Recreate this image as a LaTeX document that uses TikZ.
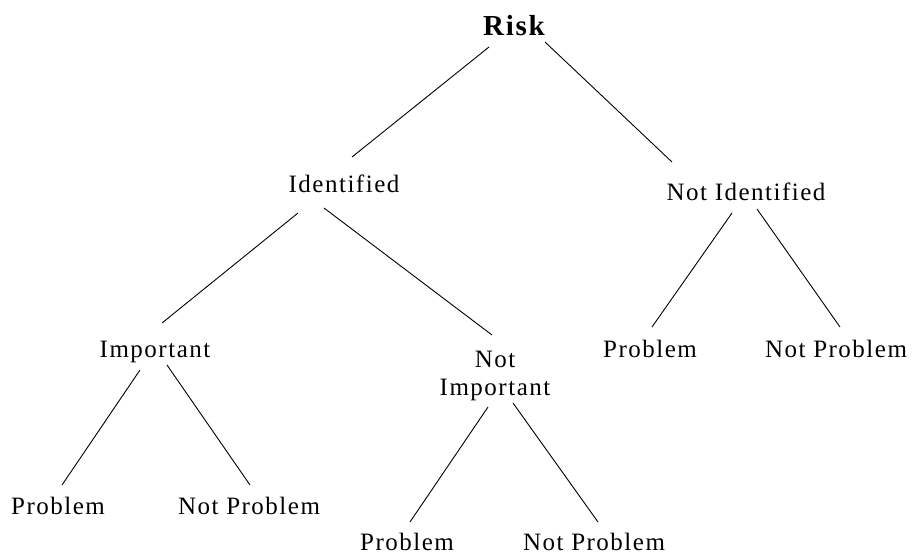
\documentclass[tikz,border=0pt]{standalone}
\usepackage{fontspec}
\setmainfont{Liberation Serif}[LetterSpace=6]
\usetikzlibrary{calc}
\begin{document}
\begin{tikzpicture}[x=1pt,y=-1pt,
  lbl/.style={inner sep=0pt,anchor=base,font=\fontsize{25}{28}\selectfont,align=center},
  rootlbl/.style={inner sep=0pt,anchor=base,font=\fontsize{29}{34}\selectfont\bfseries},
  edge/.style={line width=0.9pt,black}]
\useasboundingbox (0,0) rectangle (914,554);
\node[rootlbl] (risk) at (514,35) {Risk};
\node[lbl] (ident) at (344,192) {Identified};
\node[lbl] (notid) at (746,200) {Not Identified};
\node[lbl] (imp) at (155,357) {Important};
\node[lbl] (notimp) at (495,395) {Not\\Important};
\node[lbl] (p1) at (58,514) {Problem};
\node[lbl] (np1) at (249,514) {Not Problem};
\node[lbl] (p2) at (407,550) {Problem};
\node[lbl] (np2) at (594,550) {Not Problem};
\node[lbl] (p3) at (650,357) {Problem};
\node[lbl] (np3) at (836,357) {Not Problem};
\draw[edge] ($(risk.base)+(-25,12)$) -- ($(ident.base)+(8,-35)$);
\draw[edge] ($(risk.base)+(31,7)$) -- ($(notid.base)+(-74,-38)$);
\draw[edge] ($(ident.base)+(-46,21)$) -- ($(imp.base)+(7,-34)$);
\draw[edge] ($(ident.base)+(-20,16)$) -- ($(notimp.base)+(-3,-60)$);
\draw[edge] ($(notid.base)+(-14,13)$) -- ($(p3.base)+(2,-30)$);
\draw[edge] ($(notid.base)+(11,9)$) -- ($(np3.base)+(4,-30)$);
\draw[edge] ($(imp.base)+(-15,13)$) -- ($(p1.base)+(4,-29)$);
\draw[edge] ($(imp.base)+(12,8)$) -- ($(np1.base)+(1,-29)$);
\draw[edge] ($(notimp.base)+(-7,12)$) -- ($(p2.base)+(3,-28)$);
\draw[edge] ($(notimp.base)+(18,8)$) -- ($(np2.base)+(4,-28)$);
\end{tikzpicture}
\end{document}
